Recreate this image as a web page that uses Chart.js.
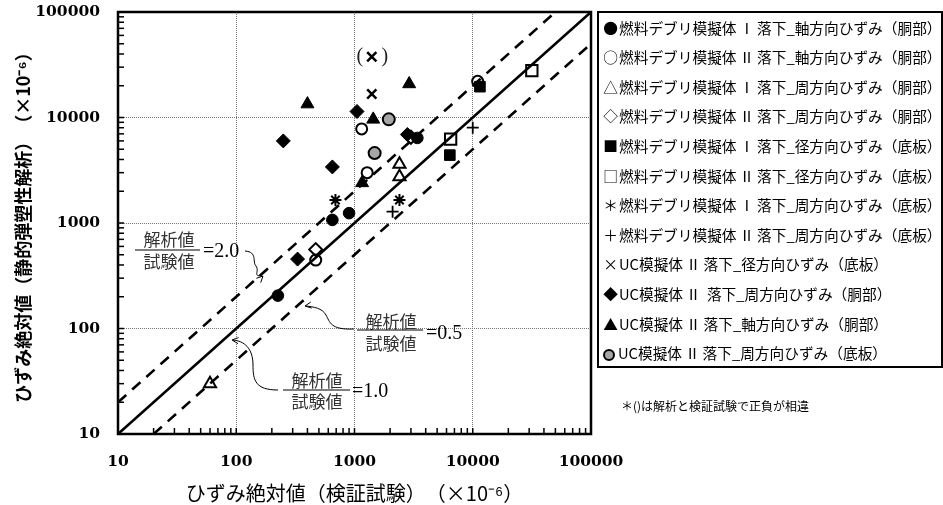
<!DOCTYPE html>
<html><head><meta charset="utf-8">
<script src="https://cdn.jsdelivr.net/npm/chart.js@4.4.0/dist/chart.umd.min.js"></script>
<style>
html,body{margin:0;padding:0;background:#fff;}
#wrap{position:relative;width:943px;height:505px;}
#legend{position:absolute;left:597px;top:11px;width:342px;height:353px;border:2px solid #000;box-sizing:content-box;font-family:"Noto Sans CJK JP",sans-serif;font-size:14.7px;color:#000;}
.row{position:absolute;left:3px;height:20px;line-height:20px;white-space:nowrap;}
.sym{display:inline-block;width:17px;text-align:center;}
.gc{display:inline-block;width:12px;height:12px;border:2px solid #000;border-radius:50%;background:#a6a6a6;vertical-align:-2px;margin-left:1px;margin-right:3px;box-sizing:border-box;}
#note{position:absolute;left:621px;top:397px;font-family:"Noto Sans CJK JP",sans-serif;font-size:12px;white-space:nowrap;}
</style></head>
<body><div id="wrap"><canvas id="c" width="943" height="505"></canvas><div id="legend"></div><div id="note"></div></div>
<script>
// ---- data ----
const axisTicks = [10, 100, 1000, 10000, 100000];
const labels = [
 "燃料デブリ模擬体\u2009Ⅰ\u2009落下_軸方向ひずみ（胴部）",
 "燃料デブリ模擬体\u2009Ⅱ\u2009落下_軸方向ひずみ（胴部）",
 "燃料デブリ模擬体\u2009Ⅰ\u2009落下_周方向ひずみ（胴部）",
 "燃料デブリ模擬体\u2009Ⅱ\u2009落下_周方向ひずみ（胴部）",
 "燃料デブリ模擬体\u2009Ⅰ\u2009落下_径方向ひずみ（底板）",
 "燃料デブリ模擬体\u2009Ⅱ\u2009落下_径方向ひずみ（底板）",
 "燃料デブリ模擬体\u2009Ⅰ\u2009落下_周方向ひずみ（底板）",
 "燃料デブリ模擬体\u2009Ⅱ\u2009落下_周方向ひずみ（底板）",
 "UC模擬体\u2009Ⅱ\u2009落下_径方向ひずみ（底板）",
 "UC模擬体\u2009Ⅱ\u2009 落下_周方向ひずみ（胴部）",
 "UC模擬体\u2009Ⅱ\u2009落下_軸方向ひずみ（胴部）",
 "UC模擬体\u2009Ⅱ\u2009落下_周方向ひずみ（底板）"
];
const symbols = ["●","○","△","◇","■","□","＊","＋","×","◆","▲",""];
const s1x=[225,650,900,3400],        s1y=[205,1070,1240,6400];
const s2x=[1150,1280,470,11000],     s2y=[7800,3000,445,22000];
const s3x=[2400,2400,60],            s3y=[3600,2750,30];
const s4x=[470,3000],                s4y=[560,6500];
const s5x=[6400,11500],              s5y=[4400,19600];
const s6x=[6500,31600],              s6y=[6250,27800];
const s7x=[690,2400],                s7y=[1650,1650];
const s8x=[2100,10000],              s8y=[1280,8000];
const s9x=[1400,1400],               s9y=[16700,37700];
const s10x=[1050,250,650,330,2800],  s10y=[11400,6000,3400,455,6900];
const s11x=[400,1440,1160,2900],     s11y=[13400,9600,2400,20800];
const s12x=[1950,1480],              s12y=[9600,4600];
const ratio10x=[10,100000], ratio10y=[10,100000];
const ratio20x=[10,50000],  ratio20y=[20,100000];
const ratio05x=[20,100000], ratio05y=[10,50000];
const xTitle = "ひずみ絶対値（検証試験）　（×10⁻⁶）";
const yTitle = "ひずみ絶対値（静的弾塑性解析）　（×10⁻⁶）";
const noteText = "＊()は解析と検証試験で正負が相違";
const fracTop = "解析値", fracBot = "試験値";
const ratioTexts = ["=2.0","=0.5","=1.0"];

// ---- build ----
const pts = (xs, ys) => xs.map((v,i)=>({x:v, y:ys[i]}));
const styles = [
 {ps:'circle', r:5.8, fill:'#000', bw:1},
 {ps:'circle', r:5.5, fill:'rgba(255,255,255,0)', bw:2},
 {ps:'triangle', r:7, fill:'rgba(255,255,255,0)', bw:2},
 {ps:'rectRot', r:6.5, fill:'rgba(255,255,255,0)', bw:2},
 {ps:'rect', r:7.5, fill:'#000', bw:1},
 {ps:'rect', r:8, fill:'rgba(255,255,255,0)', bw:2},
 {ps:'star', r:6, fill:'#000', bw:2},
 {ps:'cross', r:6, fill:'#000', bw:1.8},
 {ps:'crossRot', r:6.5, fill:'#000', bw:2.5},
 {ps:'rectRot', r:7, fill:'#000', bw:1},
 {ps:'triangle', r:7.5, fill:'#000', bw:1},
 {ps:'circle', r:6, fill:'#a6a6a6', bw:2}
];
const series = [[s1x,s1y],[s2x,s2y],[s3x,s3y],[s4x,s4y],[s5x,s5y],[s6x,s6y],[s7x,s7y],[s8x,s8y],[s9x,s9y],[s10x,s10y],[s11x,s11y],[s12x,s12y]];
const datasets = series.map((s,i)=>({
  label: labels[i], data: pts(s[0], s[1]),
  pointStyle: styles[i].ps, pointRadius: styles[i].r, pointHoverRadius: styles[i].r,
  backgroundColor: styles[i].fill, borderColor:'#000', borderWidth: styles[i].bw, showLine:false
}));
const lineDs = (xs, ys, dash) => ({type:'line', data: pts(xs, ys), showLine:true, pointRadius:0,
  borderColor:'#000', borderWidth:2.6, borderDash: dash, fill:false, tension:0});
datasets.push(lineDs(ratio10x, ratio10y, []));
datasets.push(lineDs(ratio20x, ratio20y, [11,8]));
datasets.push(lineDs(ratio05x, ratio05y, [11,8]));

// legend
const lg = document.getElementById('legend');
labels.forEach((t,i)=>{
  const d = document.createElement('div'); d.className='row';
  d.style.top = (29.6*i + 4.5) + 'px';
  const s = document.createElement('span');
  if (i === 11) { s.className='gc'; } else { s.className='sym'; s.textContent = symbols[i]; }
  d.appendChild(s); d.appendChild(document.createTextNode(t)); lg.appendChild(d);
});
document.getElementById('note').textContent = noteText;

const tickFont = {family:'"DejaVu Serif", serif', size:15.5, weight:'bold'};
const decadeTicks = s => { s.ticks = axisTicks.map(v=>({value:v, major:true})); };

const frame = {
  id:'frame',
  afterDraw(chart){
    const {ctx, chartArea:a, scales:{x,y}} = chart;
    ctx.save();
    // minor ticks, inward
    ctx.strokeStyle='#000'; ctx.lineWidth=1.5;
    for (let d=0; d<axisTicks.length-1; d++){
      for (let m=1; m<=9; m++){
        const v = axisTicks[d]*m;
        const px = x.getPixelForValue(v), py = y.getPixelForValue(v);
        ctx.beginPath(); ctx.moveTo(px, a.bottom); ctx.lineTo(px, a.bottom-6); ctx.stroke();
        ctx.beginPath(); ctx.moveTo(a.left, py); ctx.lineTo(a.left+6, py); ctx.stroke();
      }
    }
    ctx.lineWidth=2.5; ctx.strokeRect(a.left, a.top, a.right-a.left, a.bottom-a.top);
    // (×) parentheses
    const px = x.getPixelForValue(s9x[1]), py = y.getPixelForValue(s9y[1]);
    ctx.fillStyle='#222'; ctx.font='20px "Liberation Serif", serif'; ctx.textBaseline='middle'; ctx.textAlign='center';
    ctx.fillText('(', px-12, py); ctx.fillText(')', px+13, py);
    // fraction annotations
    const fr = [
      {cx:169, ny:240, ly:250, x0:135, x1:200, dy:262, tx:203, ty:252, t:ratioTexts[0]},
      {cx:391, ny:322, ly:330, x0:357, x1:423, dy:344, tx:426, ty:334, t:ratioTexts[1]},
      {cx:317, ny:381, ly:390, x0:283, x1:350, dy:402, tx:352, ty:392, t:ratioTexts[2]}
    ];
    fr.forEach(f=>{
      ctx.font='17px "Noto Sans CJK JP", sans-serif'; ctx.textAlign='center'; ctx.fillStyle='#333';
      ctx.fillText(fracTop, f.cx, f.ny); ctx.fillText(fracBot, f.cx, f.dy);
      ctx.strokeStyle='#000'; ctx.lineWidth=1; ctx.beginPath(); ctx.moveTo(f.x0, f.ly); ctx.lineTo(f.x1, f.ly); ctx.stroke();
      ctx.font='20px "Liberation Serif", serif'; ctx.textAlign='left'; ctx.fillStyle='#000';
      ctx.fillText(f.t, f.tx, f.ty);
    });
    // curvy arrows
    ctx.strokeStyle='#000'; ctx.lineWidth=1;
    const head = (x0,y0,ang)=>{ ctx.beginPath();
      ctx.moveTo(x0+7*Math.cos(ang+0.45), y0+7*Math.sin(ang+0.45)); ctx.lineTo(x0,y0);
      ctx.lineTo(x0+7*Math.cos(ang-0.45), y0+7*Math.sin(ang-0.45)); ctx.stroke(); };
    ctx.beginPath(); ctx.moveTo(245,251); ctx.bezierCurveTo(258,252,252,262,256,266); ctx.bezierCurveTo(260,272,252,276,262,276); ctx.stroke();
    head(263,276, Math.PI*0.75);
    ctx.beginPath(); ctx.moveTo(354,329); ctx.bezierCurveTo(330,330,330,322,326,315); ctx.bezierCurveTo(322,308,314,307,306,306); ctx.stroke();
    head(305,306, -0.15);
    ctx.beginPath(); ctx.moveTo(278,390); ctx.bezierCurveTo(255,390,253,380,253,365); ctx.bezierCurveTo(253,348,244,341,233,340); ctx.stroke();
    head(232,340, 0.1);
    ctx.restore();
  }
};

new Chart(document.getElementById('c'), {
  type:'scatter',
  data:{datasets},
  options:{
    responsive:false, animation:false,
    layout:{padding:{left:0, right:352, top:12, bottom:0}},
    plugins:{legend:{display:false}, tooltip:{enabled:false}},
    scales:{
      x:{type:'logarithmic', min:10, max:100000,
        afterBuildTicks: decadeTicks,
        afterFit: s=>{ s.height = 71; s.paddingLeft = 0; s.paddingRight = 0; },
        grid:{color:'#777', lineWidth:1, drawTicks:false},
        border:{display:false, dash:[1,1]},
        ticks:{font:tickFont, color:'#000', padding:19, maxRotation:0, autoSkip:false, callback:v=>String(v)},
        title:{display:true, text:xTitle, font:{family:'"Noto Sans CJK JP", sans-serif', size:20}, color:'#000', padding:{top:10, bottom:0}}
      },
      y:{type:'logarithmic', min:10, max:100000,
        afterBuildTicks: decadeTicks,
        afterFit: s=>{ s.width = 118; s.paddingTop = 0; s.paddingBottom = 0; },
        grid:{color:'#777', lineWidth:1, drawTicks:false},
        border:{display:false, dash:[1,1]},
        ticks:{font:tickFont, color:'#000', padding:18, autoSkip:false, callback:v=>String(v)},
        title:{display:true, text:yTitle, font:{family:'"Noto Sans CJK JP", sans-serif', size:18, weight:'bold'}, color:'#000', padding:{top:12, bottom:0}}
      }
    }
  },
  plugins:[frame]
});
</script></body></html>
